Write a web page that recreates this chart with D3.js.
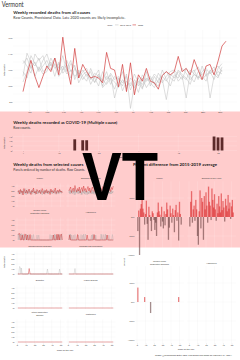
<!DOCTYPE html>
<html lang="en">
<head>
<meta charset="utf-8">
<title>Vermont</title>
<script src="https://d3js.org/d3.v7.min.js"></script>
<style type="text/css">
  body { margin: 0; background: #fff; }
  svg { display: block; font-family: Lato, "Open Sans", sans-serif; }
  .title { font-weight: bold; font-size: 4px; fill: #1a1a1a; }
  .sub { font-size: 3.3px; fill: #333; }
  .lab { font-size: 2.2px; fill: #333; }
  .strip { font-size: 2.1px; fill: #444; }
</style>
</head>
<body>
<script type="text/javascript">

const w = 240;
const h = 360;

// ---------- data ----------
const months = ["Jan","Feb","Mar","Apr","May","Jun","Jul","Aug","Sep","Oct","Nov","Dec"];
const legendYears = ["2015-2019", "2020"];

// weekly deaths from all causes
const all2020 = [93,115,132,112,98,112,125,118,135,114,161,124,102,147,110,127,118,110,112,110,104,142,122,120,99,127,93,129,89,114,106,122,106,104,96,113,118,114,118,137,118,122,114,133,120,108,125,127,114,131,150,156];
const all2015 = [128,135,122,130,118,125,132,120,128,118,125,115,120,112,118,108,115,110,105,112,108,102,110,105,98,108,100,104,98,106,102,110,104,98,108,112,106,115,110,118,112,108,120,115,110,118,122,115,120,125,118];
const all2016 = [112,141,130,125,135,118,122,128,112,130,120,126,110,122,115,120,112,118,104,115,100,112,108,96,110,104,112,95,108,100,114,106,110,102,116,108,83,112,118,106,112,85,116,120,108,125,112,118,108,122,128];
const all2017 = [105,118,138,128,120,132,140,125,135,122,138,118,128,124,110,118,122,108,116,112,106,118,102,112,108,100,115,72,102,110,98,108,112,104,100,114,118,110,106,120,114,110,102,118,124,112,106,120,115,110,124];
const all2018 = [132,125,116,140,132,138,124,130,122,128,116,122,132,108,120,112,106,122,110,100,118,108,114,85,104,118,96,110,104,92,110,98,106,115,110,104,112,118,120,114,108,122,112,105,118,114,120,85,112,118,115];
const all2019 = [118,110,126,112,124,115,118,135,125,112,120,132,118,126,104,114,118,102,112,120,98,104,116,108,112,94,106,100,115,104,96,118,100,112,104,120,108,100,114,110,122,116,108,114,112,108,114,118,124,112,120];

// COVID-19 weekly deaths (weeks with 1-9 deaths suppressed)
const covidWeeks = [14, 16, 17, 49, 50, 51];
const covidDeaths = [12, 11, 11, 15, 14, 14];

// selected causes, raw weekly counts
const causeNames = ["Cancer", "Diseases of the Heart", "Chronic Lower\nRespiratory Diseases", "Alzheimer's",
  "Cerebrovascular Diseases", "Influenza and Pneumonia", "Diabetes", "Kidney Disease",
  "Other Respiratory\nDisease", "Septicemia"];

const cancer2020 = [28,31,24,33,27,30,22,35,29,26,32,25,30,34,27,23,31,28,36,26,29,24,33,30,27,32,25,29,35,28,24,31,27,33,26,30,29,23,34,28,31,26,30,36,25,29,32,27,33,28,30,26];
const cancerPrior1 = [26,30,27,24,32,28,25,29,33,27,23,30,26,31,28,24,29,34,26,28,22,30,27,25,31,29,26,24,30,27,33,25,28,26,31,24,29,27,32,26,28,30,25,27,31,24,29,26,33,28,25,30];
const cancerPrior2 = [31,25,29,33,26,22,30,28,24,35,27,29,25,31,26,30,23,28,32,27,25,29,31,24,28,26,33,29,22,30,27,25,31,28,24,30,26,33,27,29,24,28,31,26,23,30,28,25,32,27,29,31];
const cancerPrior3 = [24,28,32,27,30,25,33,26,29,23,31,27,34,24,29,26,31,25,28,30,26,33,24,29,27,30,25,31,28,26,29,23,32,27,30,25,28,31,24,30,27,33,26,29,25,28,30,24,27,31,26,29];

const heart2020 = [30,34,38,27,32,36,29,41,33,28,35,30,38,26,33,37,29,40,31,35,28,34,39,30,36,27,33,38,31,29,36,42,30,34,28,37,32,35,29,39,33,30,36,28,34,38,31,35,29,37,33,40];
const heartPrior1 = [27,31,24,29,33,26,30,22,28,32,25,29,27,34,23,28,31,26,24,30,27,22,29,25,31,28,24,27,30,23,28,26,32,25,29,27,24,30,26,28,31,23,27,29,25,32,26,28,24,30,27,29];
const heartPrior2 = [33,26,30,28,24,31,27,35,25,29,32,24,30,27,29,22,33,28,25,31,26,29,24,28,30,25,27,32,24,29,26,30,23,28,31,25,29,27,33,24,28,26,30,25,29,27,31,24,28,32,26,30];
const heartPrior3 = [29,24,32,26,30,28,23,29,31,26,28,33,25,30,27,24,29,26,31,23,28,30,26,24,29,27,31,25,28,26,30,24,29,27,25,32,28,23,30,26,29,27,24,31,28,25,29,26,30,24,28,27];

const clrd2020 = [11,12,13,0,0,10,0,0,12,11,0,10,0,0,11,0,0,0,0,0,0,0,0,0,0,0,0,0,0,0,0,0,0,0,0,0,0,0,0,0,0,10,0,0,0,12,0,11,0,10,12,0];
const clrdPrior1 = [12,0,11,10,13,0,12,0,0,10,0,0,11,0,0,0,10,0,0,0,0,0,10,0,0,0,0,0,0,0,0,0,0,0,0,0,0,11,0,0,10,0,12,0,10,0,0,0,11,0,0,13];
const clrdPrior2 = [0,13,0,12,0,11,0,10,0,0,12,0,0,10,0,0,0,0,11,0,0,0,0,0,10,0,0,0,0,0,0,0,0,0,0,0,0,0,0,10,0,0,0,11,0,10,0,12,0,0,11,0];

const alz2020 = [0,10,0,0,0,0,0,0,0,0,11,0,0,0,0,0,0,0,0,0,0,10,0,0,0,0,0,0,0,11,0,0,0,0,0,0,0,0,0,0,0,0,0,0,10,0,0,0,0,0,0,0];
const alzPrior1 = [11,0,12,0,0,10,0,0,0,0,0,0,0,0,11,0,10,0,0,12,0,0,0,0,0,0,10,0,11,0,0,10,0,0,0,0,0,12,0,0,11,0,0,10,0,0,0,0,0,0,11,0];
const alzPrior2 = [0,12,0,10,0,0,0,11,0,0,0,10,0,0,0,0,0,12,0,0,0,0,0,0,0,0,0,11,0,0,10,0,0,0,0,0,0,0,11,0,0,0,12,0,0,0,10,0,0,0,0,0];

const cerebro2020 = [0,0,0,0,0,0,0,0,0,0,0,0,0,11,0,0,0,0,0,0,0,0,0,0,0,0,0,0,0,0,0,0,0,0,0,0,0,0,0,0,0,0,0,0,0,0,0,0,0,0,0,0];
const cerebroPrior1 = [0,0,15,12,0,0,0,0,0,0,0,0,0,0,0,0,0,0,0,0,0,0,0,0,0,0,0,0,0,0,0,0,0,0,10,0,0,0,0,0,0,0,0,0,0,0,0,0,0,0,0,0];
const cerebroPrior2 = [0,0,0,0,12,0,0,0,0,0,0,0,0,0,0,0,0,0,0,0,0,0,0,0,0,0,0,0,0,0,0,0,0,0,0,0,0,0,0,0,0,0,0,0,0,0,0,0,10,0,0,0];

const flu2020 = [0,0,0,0,0,0,0,0,0,0,0,0,0,0,0,0,0,0,0,0,0,0,0,0,0,0,0,0,0,0,0,0,0,0,0,0,0,0,0,0,0,0,0,0,0,0,0,0,0,0,0,0];
const fluPrior1 = [0,0,0,0,0,0,0,11,0,0,0,0,0,0,0,0,0,0,0,0,0,0,0,0,0,0,0,0,0,0,0,0,0,0,0,0,0,0,0,0,0,0,0,0,0,0,0,0,0,0,0,0];

const diabetes2020 = [0,0,0,0,0,0,0,0,0,0,0,0,0,0,0,0,0,0,0,0,0,0,0,0,0,0,0,0,0,0,0,0,0,0,0,0,0,0,0,0,0,0,0,0,0,0,0,0,0,0,0,0];
const kidney2020 = [0,0,0,0,0,0,0,0,0,0,0,0,0,0,0,0,0,0,0,0,0,0,0,0,0,0,0,0,0,0,0,0,0,0,0,0,0,0,0,0,0,0,0,0,0,0,0,0,0,0,0,0];
const otherResp2020 = [0,0,0,0,0,0,0,0,0,0,0,0,0,0,0,0,0,0,0,0,0,0,0,0,0,0,0,0,0,0,0,0,0,0,0,0,0,0,0,0,0,0,0,0,0,0,0,0,0,0,0,0];
const septicemia2020 = [0,0,0,0,0,0,0,0,0,0,0,0,0,0,0,0,0,0,0,0,0,0,0,0,0,0,0,0,0,0,0,0,0,0,0,0,0,0,0,0,0,0,0,0,0,0,0,0,0,0,0,0];

// percent difference from 2015-2019 average
const cancerPct = [-37,17,-100,22,34,45,22,12,-20,8,43,-18,-60,27,5,-10,-37,15,10,-8,-34,-15,-50,12,38,15,6,-25,27,-12,-30,15,-22,8,38,20,-60,-28,30,10,-15,22,5,-40,18,32,-10,12,-62,40,8,-20];
const heartPct = [-25,40,68,-15,20,30,-10,45,20,-50,-73,15,70,-30,50,40,-60,55,20,65,30,-15,80,40,30,-8,75,45,25,60,20,-10,35,10,55,28,12,62,18,42,25,-12,48,30,15,58,22,38,-5,28,45,12];
const clrdPct = [38,0,0,0,0,0,0,0,13,0,0,0,0,0,0,-29,0,0,0,0,0,0,0,0,0,0,0,0,0,0,0,0,0,0,0,0,0,0,0,0,0,0,0,0,0,0,0,0,13,0,0,0];
const alzPct = [0,0,0,0,0,0,0,0,0,0,0,0,0,0,0,0,0,0,0,0,0,0,0,0,0,0,0,0,0,0,0,0,0,0,0,0,0,0,0,0,0,0,0,0,0,0,0,0,0,0,0,0];

const causeData = [
  { y2020: cancer2020, prior: [cancerPrior1, cancerPrior2, cancerPrior3] },
  { y2020: heart2020, prior: [heartPrior1, heartPrior2, heartPrior3] },
  { y2020: clrd2020, prior: [clrdPrior1, clrdPrior2] },
  { y2020: alz2020, prior: [alzPrior1, alzPrior2] },
  { y2020: cerebro2020, prior: [cerebroPrior1, cerebroPrior2] },
  { y2020: flu2020, prior: [fluPrior1] },
  { y2020: diabetes2020, prior: [] },
  { y2020: kidney2020, prior: [] },
  { y2020: otherResp2020, prior: [] },
  { y2020: septicemia2020, prior: [] }
];
const pctData = [cancerPct, heartPct, clrdPct, alzPct];

// ---------- drawing ----------
const pinkGrid = "rgba(255,255,255,0.5)";
const whiteGrid = "#ebebeb";

const svg = d3.select("body").append("svg").attr("width", w).attr("height", h);

svg.append("rect").attr("x", 0).attr("y", 111.5).attr("width", w).attr("height", 136).attr("fill", "#ffcccc");

function gridLines(g, xs, ys, xr, yr, color) {
  g.append("g").selectAll("line").data(ys).join("line")
    .attr("x1", xr[0]).attr("x2", xr[1]).attr("y1", d => d).attr("y2", d => d)
    .attr("stroke", color).attr("stroke-width", 0.25);
  g.append("g").selectAll("line").data(xs).join("line")
    .attr("y1", yr[0]).attr("y2", yr[1]).attr("x1", d => d).attr("x2", d => d)
    .attr("stroke", color).attr("stroke-width", 0.25);
}

function styleAxis(a) {
  a.select(".domain").remove();
  a.selectAll("line").attr("stroke", "#333").attr("stroke-width", 0.2);
  a.selectAll("text").attr("font-size", 2.2).attr("fill", "#4d4d4d").attr("font-family", "Lato, sans-serif");
}

function text(x, y, str, cls, len) {
  const t = svg.append("text").attr("x", x).attr("y", y).attr("class", cls).text(str);
  if (len) t.attr("textLength", len).attr("lengthAdjust", "spacingAndGlyphs");
  return t;
}

function yLabel(x, y, str) {
  svg.append("text").attr("transform", `translate(${x},${y}) rotate(-90)`)
    .attr("text-anchor", "middle").attr("class", "lab").attr("font-size", 2.4).text(str);
}

// titles
text(1.7, 7.4, "Vermont", "", 22).attr("font-size", 7.5).attr("fill", "#333");
text(13.3, 13.6, "Weekly recorded deaths from all causes", "title", 77);
text(13.3, 18.6, "Raw Counts, Provisional Data. Late 2020 counts are likely incomplete.", "sub", 112);

// legend
text(107, 25.6, "Years", "lab").attr("font-size", 1.9);
svg.append("line").attr("x1", 115).attr("x2", 118.5).attr("y1", 24.9).attr("y2", 24.9).attr("stroke", "#bdbdbd").attr("stroke-width", 0.5);
text(120, 25.6, legendYears[0], "lab").attr("font-size", 1.9);
svg.append("line").attr("x1", 132.5).attr("x2", 136).attr("y1", 24.9).attr("y2", 24.9).attr("stroke", "#d13b3b").attr("stroke-width", 0.6);
text(138, 25.6, legendYears[1], "lab").attr("font-size", 1.9);

// ---- all causes line chart ----
const x = d3.scaleLinear().domain([1, 52]).range([23, 226]);
const xDate = d3.scaleTime().domain([new Date(2020, 0, 4), new Date(2020, 11, 26)]).range([23, 226]);
const y = d3.scaleLinear().domain([70, 170]).range([110, 30]);
const monthTicks = months.map((m, i) => new Date(2020, i, 15));

const main = svg.append("g");
gridLines(main, monthTicks.map(xDate), [80, 90, 100, 110, 120, 130, 140, 150, 160].map(y), [13, 237], [30, 110], whiteGrid);

const line = d3.line().x((d, i) => x(i + 1)).y(d => y(d));
main.append("g").selectAll("path").data([all2015, all2016, all2017, all2018, all2019]).join("path")
  .attr("d", line).attr("fill", "none").attr("stroke", "#bdbdbd").attr("stroke-width", 0.5);
main.append("path").datum(all2020).attr("d", line)
  .attr("fill", "none").attr("stroke", "#d13b3b").attr("stroke-width", 0.7);

main.append("g").attr("transform", "translate(13,0)")
  .call(d3.axisLeft(y).tickValues([80, 100, 120, 140, 160]).tickSize(0.6).tickPadding(0.5)).call(styleAxis);
main.append("g").attr("transform", "translate(0,110.5)")
  .call(d3.axisBottom(xDate).tickValues(monthTicks).tickFormat((d, i) => months[i]).tickSize(0.6).tickPadding(0.5)).call(styleAxis);
yLabel(5, 70, "Total Deaths");

// ---- COVID-19 bars ----
text(13.3, 123.6, "Weekly deaths recorded as COVID-19 (Multiple cause)", "title", 104);
text(13.3, 128.6, "Raw counts.", "sub");

const yc = d3.scaleLinear().domain([0, 15]).range([150.5, 136.5]);
const cov = svg.append("g");
gridLines(cov, [1, 10, 20, 30, 40, 50].map(x), [0, 5, 10, 15].map(yc), [13, 237], [134, 151.3], pinkGrid);
cov.append("g").selectAll("rect").data(covidWeeks).join("rect")
  .attr("x", d => x(d) - 1.4).attr("width", 2.8)
  .attr("y", (d, i) => yc(covidDeaths[i]))
  .attr("height", (d, i) => yc(0) - yc(covidDeaths[i]))
  .attr("fill", "#5d2a2a");
cov.append("g").attr("transform", "translate(13,0)")
  .call(d3.axisLeft(yc).tickValues([0, 5, 10, 15]).tickSize(0.6).tickPadding(0.5)).call(styleAxis);
cov.append("g").attr("transform", "translate(0,151.3)")
  .call(d3.axisBottom(x).tickValues([1, 10, 20, 30, 40, 50]).tickSize(0.6).tickPadding(0.5)).call(styleAxis);
yLabel(5, 143, "Total Deaths");
text(125, 158.3, "Week of the Year", "lab").attr("text-anchor", "middle");

// ---- selected causes, raw counts ----
text(13.3, 166.4, "Weekly deaths from selected causes", "title", 70);
text(13.3, 171.2, "Panels ordered by number of deaths. Raw Counts.", "sub");

causeData.forEach((c, k) => {
  const row = Math.floor(k / 2), col = k % 2;
  const x0 = [17, 68][col];
  const sx = d3.scaleLinear().domain([0, 50]).range([x0, x0 + 43.5]);
  const sy = d3.scaleLinear().domain([0, 40]).range([206 + 34 * row, 186 + 34 * row]);
  const xr = [x0 - 2, x0 + 47.5], yr = [183.5 + 34 * row, 207 + 34 * row];
  const g = svg.append("g");
  gridLines(g, [0, 10, 20, 30, 40, 50].map(sx), [0, 10, 20, 30, 40].map(sy), xr, yr, yr[1] < 248 ? pinkGrid : whiteGrid);

  const lines = causeNames[k].split("\n");
  g.append("text").attr("class", "strip").attr("text-anchor", "middle")
    .attr("x", (xr[0] + xr[1]) / 2).attr("y", 178.5 + 34 * row - (lines.length - 1) * 1.3)
    .selectAll("tspan").data(lines).join("tspan")
    .attr("x", (xr[0] + xr[1]) / 2).attr("dy", (d, i) => i ? 2.6 : 0).text(d => d);

  const sl = d3.line().x((d, i) => sx(i + 1)).y(d => sy(d));
  g.append("g").selectAll("path").data(c.prior).join("path")
    .attr("d", sl).attr("fill", "none").attr("stroke", "#a8a8a8").attr("stroke-width", 0.3);
  g.append("path").datum(c.y2020).attr("d", sl)
    .attr("fill", "none").attr("stroke", "#cc1f1f").attr("stroke-width", 0.4);

  if (col === 0) {
    g.append("g").attr("transform", `translate(${xr[0]},0)`)
      .call(d3.axisLeft(sy).tickValues([0, 10, 20, 30, 40]).tickSize(0.6).tickPadding(0.5)).call(styleAxis);
  }
  if (row === 4) {
    g.append("g").attr("transform", `translate(0,${yr[1] + 0.8})`)
      .call(d3.axisBottom(sx).tickValues([0, 10, 20, 30, 40, 50]).tickSize(0.6).tickPadding(0.5)).call(styleAxis);
  }
});
yLabel(5, 262, "Total Deaths");
text(65, 350.8, "Week of the Year", "lab").attr("text-anchor", "middle");

// ---- percent difference ----
text(133, 166.4, "Percent difference from 2015-2019 average", "title", 84);

pctData.forEach((p, k) => {
  const row = Math.floor(k / 2), col = k % 2;
  const x0 = [137, 189][col];
  const px = d3.scaleLinear().domain([0, 50]).range([x0, x0 + 42.5]);
  const zero = 217 + 85 * row;
  const py = d3.scaleLinear().domain([-100, 50]).range([zero + 38, zero - 19]);
  const xr = [x0 - 2, x0 + 47], yr = [py(94), py(-109)];
  const g = svg.append("g");
  gridLines(g, [0, 10, 20, 30, 40, 50].map(px), [-100, -50, 0, 50].map(py), xr, yr, yr[0] < 248 ? pinkGrid : whiteGrid);

  const lines = causeNames[k].split("\n");
  g.append("text").attr("class", "strip").attr("text-anchor", "middle")
    .attr("x", (xr[0] + xr[1]) / 2).attr("y", 178.5 + 85 * row - (lines.length - 1) * 1.3)
    .selectAll("tspan").data(lines).join("tspan")
    .attr("x", (xr[0] + xr[1]) / 2).attr("dy", (d, i) => i ? 2.6 : 0).text(d => d);

  const bars = p.map((v, i) => ({ week: i + 1, v })).filter(d => d.v !== 0);
  g.append("g").selectAll("rect").data(bars).join("rect")
    .attr("x", d => px(d.week) - 0.65).attr("width", 1.3)
    .attr("y", d => Math.min(py(d.v), py(0)))
    .attr("height", d => Math.abs(py(d.v) - py(0)))
    .attr("fill", d => d.v > 0 ? "#d7191c" : "#5a3030")
    .attr("fill-opacity", 0.55);

  if (col === 0) {
    g.append("g").attr("transform", `translate(${xr[0]},0)`)
      .call(d3.axisLeft(py).tickValues([-100, -50, 0, 50]).tickFormat(d => d + "%").tickSize(0.6).tickPadding(0.5)).call(styleAxis);
  }
  if (row === 1) {
    g.append("g").attr("transform", `translate(0,${yr[1] + 0.3})`)
      .call(d3.axisBottom(px).tickValues([0, 10, 20, 30, 40, 50]).tickSize(0.6).tickPadding(0.5)).call(styleAxis);
  }
});
yLabel(125, 262, "Percent");
text(186, 349.8, "Week of the Year", "lab").attr("text-anchor", "middle");
text(155, 356, "Graph: @kkheadlines Data: CDC. This graph was made on February 21, 2021.", "lab", 77).attr("font-size", 2.1);

// big state abbreviation on top
svg.append("text").attr("x", 82).attr("y", 200).text("VT")
  .attr("font-family", "'Liberation Sans', Arial, sans-serif").attr("font-weight", "bold")
  .attr("font-size", 69).attr("fill", "#000")
  .attr("textLength", 76).attr("lengthAdjust", "spacingAndGlyphs");

</script>
</body>
</html>
